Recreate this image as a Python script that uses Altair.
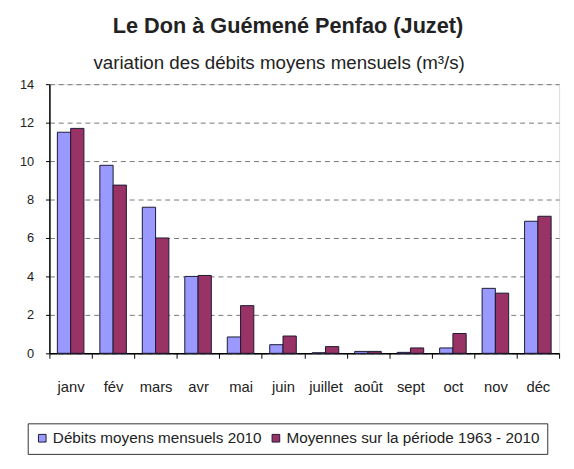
import altair as alt
import pandas as pd

months = ["janv", "fév", "mars", "avr", "mai", "juin", "juillet", "août", "sept", "oct", "nov", "déc"]
series_names = ["Débits moyens mensuels 2010", "Moyennes sur la période 1963 - 2010"]
debits_2010 = [11.5, 9.78, 7.6, 4.0, 0.85, 0.45, 0.03, 0.1, 0.05, 0.28, 3.38, 6.87]
moyennes = [11.7, 8.75, 6.0, 4.05, 2.48, 0.9, 0.35, 0.1, 0.28, 1.03, 3.13, 7.13]
title_text = "Le Don à Guémené Penfao (Juzet)"
subtitle_text = "variation des débits moyens mensuels (m³/s)"
y_ticks = [0, 2, 4, 6, 8, 10, 12, 14]

rows = []
for i, m in enumerate(months):
    rows.append({"mois": m, "serie": series_names[0], "debit": debits_2010[i]})
    rows.append({"mois": m, "serie": series_names[1], "debit": moyennes[i]})
df = pd.DataFrame(rows)

FONT = "Liberation Sans"
TXT = "#222222"

bars = alt.Chart(df).mark_bar(stroke="#1a1a33", strokeWidth=1).encode(
    x=alt.X("mois:N", sort=months,
            scale=alt.Scale(paddingInner=0, paddingOuter=0),
            axis=alt.Axis(title=None, labelAngle=0, tickBand="extent", tickSize=5,
                          tickColor="#000", domainColor="#000", domainWidth=1.5,
                          labelFont=FONT, labelFontSize=15, labelColor=TXT,
                          labelPadding=22, grid=False)),
    xOffset=alt.XOffset("serie:N", sort=series_names,
                        scale=alt.Scale(paddingInner=0, paddingOuter=0.6)),
    y=alt.Y("debit:Q", scale=alt.Scale(domain=[0, 14], nice=False),
            axis=alt.Axis(title=None, values=y_ticks, tickSize=4, tickColor="#000",
                          domainColor="#000", domainWidth=1.5,
                          labelFont=FONT, labelFontSize=13, labelColor=TXT,
                          labelPadding=12, grid=True, gridColor="#777",
                          gridDash=[5, 4], gridWidth=1)),
    color=alt.Color("serie:N", sort=series_names,
                    scale=alt.Scale(domain=series_names, range=["#9999FF", "#993366"]),
                    legend=alt.Legend(title=None, orient="none", direction="horizontal",
                                      legendX=-22, legendY=344,
                                      strokeColor="#333", padding=7,
                                      symbolType="square", symbolSize=60,
                                      symbolStrokeColor="#1a1a33", symbolStrokeWidth=1,
                                      labelFont=FONT, labelFontSize=15.5, labelColor=TXT,
                                      labelLimit=0, labelOffset=3, columnPadding=6)),
)

title = alt.Chart(pd.DataFrame({"t": [title_text]})).mark_text(
    font=FONT, fontSize=22, fontWeight="bold", color=TXT, baseline="alphabetic", align="center"
).encode(text="t:N", x=alt.value(242), y=alt.value(-52))

subtitle = alt.Chart(pd.DataFrame({"t": [subtitle_text]})).mark_text(
    font=FONT, fontSize=19, color=TXT, baseline="alphabetic", align="center"
).encode(text="t:N", x=alt.value(233), y=alt.value(-15))

chart = alt.layer(bars, title, subtitle).properties(
    width=517, height=273,
    autosize=alt.AutoSizeParams(type="none"),
    padding={"left": 42, "top": 74, "right": 7, "bottom": 110},
).configure_view(stroke="#444", strokeWidth=1).configure(background="white")

chart.save("out.html", embed_options={"renderer": "svg", "actions": False})
